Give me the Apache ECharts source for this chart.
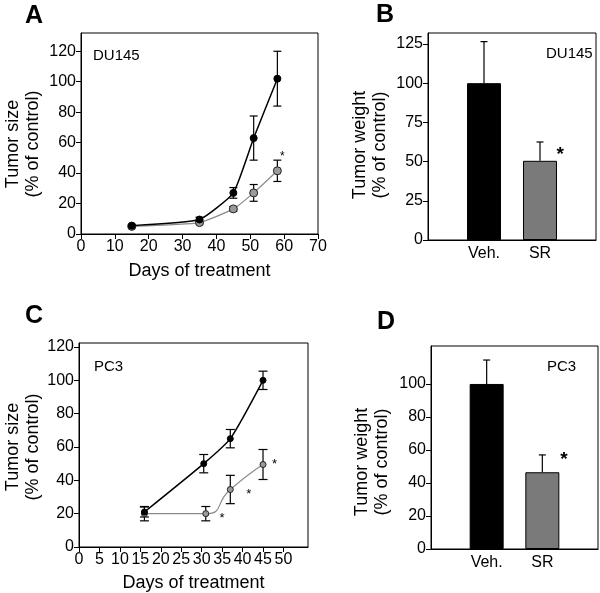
<!DOCTYPE html>
<html>
<head>
<meta charset="utf-8">
<script src="https://cdn.jsdelivr.net/npm/echarts@6/dist/echarts.min.js"></script>
<style>
html,body{margin:0;padding:0;background:#fff;}
#chart{width:600px;height:593px;}
</style>
</head>
<body>
<div id="chart"></div>
<script>
// ---------- DATA ----------
// Panel A (DU145 tumor size)
const daysA = [15, 35, 45, 51, 58];
const vehA = [5.5, 9.5, 27, 63, 102];
const vehAErr = [0.8, 1.5, 3.5, 14.5, 18];
const srA = [5, 7.5, 16.5, 27, 41.5];
const srAErr = [0.8, 0.8, 1.5, 5.5, 7];
const starsA = [[59.5, 52.6]];
const xTicksA = [0, 10, 20, 30, 40, 50, 60, 70];
const yTicksA = [0, 20, 40, 60, 80, 100, 120];

// Panel B (DU145 tumor weight)
const groups = ['Veh.', 'SR'];
const weightB = [100, 50.5];
const weightBErr = [26.5, 12];
const starsB = [[2.36, 57]];
const yTicksB = [0, 25, 50, 75, 100, 125];

// Panel C (PC3 tumor size)
const daysCVeh = [16, 30.5, 37, 45];
const vehC = [21, 50, 65, 100];
const vehCErr = [3, 5.5, 5.5, 5.5];
const daysCSR = [16, 31, 37, 45];
const srC = [20, 20, 34.5, 49.5];
const srCErr = [4.3, 4.3, 8.5, 9];
const starsC = [[35, 19.2], [41.5, 33.6], [47.8, 51.2]];
const xTicksC = [0, 5, 10, 15, 20, 25, 30, 35, 40, 45, 50];
const yTicksC = [0, 20, 40, 60, 80, 100, 120];

// Panel D (PC3 tumor weight)
const weightD = [100, 46.5];
const weightDErr = [14.5, 10.5];
const starsD = [[2.39, 57]];
const yTicksD = [0, 20, 40, 60, 80, 100];

// ---------- HELPERS ----------
const FONT = '"Liberation Sans", Arial, Helvetica, sans-serif';
const BLACK = '#000';
const GRAYLINE = '#8a8a8a';
const GRAYFILL = '#9a9a9a';
const BARGRAY = '#7a7a7a';

function pairs(xs, ys) { return xs.map((x, i) => [x, ys[i]]); }
function errData(xs, ys, es) { return xs.map((x, i) => [x, ys[i] - es[i], ys[i] + es[i]]); }
function upErrData(ys, es) { return ys.map((y, i) => [i + 1, y, y + es[i]]); }

function errRender(capW, lw, bottomCap) {
  return function (params, api) {
    const x = api.value(0), lo = api.value(1), hi = api.value(2);
    const pLo = api.coord([x, lo]), pHi = api.coord([x, hi]);
    const w = capW / 2;
    const st = { stroke: BLACK, lineWidth: lw };
    const children = [
      { type: 'line', shape: { x1: pHi[0], y1: pHi[1], x2: pLo[0], y2: pLo[1] }, style: st },
      { type: 'line', shape: { x1: pHi[0] - w, y1: pHi[1], x2: pHi[0] + w, y2: pHi[1] }, style: st }
    ];
    if (bottomCap) children.push({ type: 'line', shape: { x1: pLo[0] - w, y1: pLo[1], x2: pLo[0] + w, y2: pLo[1] }, style: st });
    return { type: 'group', children };
  };
}
function starRender(fs, bold) {
  return function (params, api) {
    const p = api.coord([api.value(0), api.value(1)]);
    return {
      type: 'text',
      style: { text: '*', x: p[0], y: p[1] + fs * 0.24, fill: BLACK, font: (bold ? 'bold ' : '') + fs + 'px ' + FONT, align: 'center', verticalAlign: 'middle' }
    };
  };
}

const labelStyle = { color: BLACK, fontSize: 16, fontFamily: FONT };
const axisLineStyle = { show: true, lineStyle: { color: BLACK, width: 1 } };

function valueXAxis(gi, max, ticks, labelMargin) {
  return {
    type: 'value', gridIndex: gi, min: 0, max: max,
    axisLine: axisLineStyle,
    axisTick: { show: true, inside: false, length: 5, lineStyle: { color: BLACK }, customValues: ticks },
    axisLabel: Object.assign({ margin: labelMargin, customValues: ticks }, labelStyle),
    splitLine: { show: false }
  };
}
function valueYAxis(gi, max, ticks) {
  return {
    type: 'value', gridIndex: gi, min: 0, max: max,
    axisLine: axisLineStyle,
    axisTick: { show: true, inside: false, length: 5, lineStyle: { color: BLACK }, customValues: ticks },
    axisLabel: Object.assign({ margin: 5, customValues: ticks }, labelStyle),
    splitLine: { show: false }
  };
}
function groupXAxis(gi) {
  return {
    type: 'value', gridIndex: gi, min: 0, max: 3,
    axisLine: axisLineStyle,
    axisTick: { show: false },
    axisLabel: Object.assign({ margin: 6, customValues: groups.map((g, i) => i + 1), formatter: v => groups[Math.round(v) - 1] || '' }, labelStyle),
    splitLine: { show: false }
  };
}
const gridBox = { show: true, borderColor: BLACK, borderWidth: 1, backgroundColor: 'transparent', containLabel: false };

function yTitle(text, x, y) {
  return {
    type: 'text', x: x, y: y, rotation: Math.PI / 2,
    style: { text: text, font: '18px ' + FONT, fill: BLACK, align: 'center', verticalAlign: 'middle', lineHeight: 20 }
  };
}
function letter(t, left, top) {
  return { text: t, left: left, top: top, padding: 0, textStyle: { fontSize: 25, fontWeight: 'bold', color: BLACK, fontFamily: FONT } };
}
function note(t, left, top) {
  return { text: t, left: left, top: top, padding: 0, textStyle: { fontSize: 15, fontWeight: 'normal', color: BLACK, fontFamily: FONT } };
}

const blackLine = (xi, yi, data, smooth, size) => ({
  type: 'line', xAxisIndex: xi, yAxisIndex: yi, data: data, smooth: smooth, z: 4,
  symbol: 'circle', symbolSize: size, showSymbol: true,
  lineStyle: { color: BLACK, width: 1.5 }, itemStyle: { color: BLACK, borderColor: BLACK, borderWidth: 1 }
});
const grayLine = (xi, yi, data, smooth, size) => ({
  type: 'line', xAxisIndex: xi, yAxisIndex: yi, data: data, smooth: smooth, z: 3,
  symbol: 'circle', symbolSize: size, showSymbol: true,
  lineStyle: { color: GRAYLINE, width: 1.2 }, itemStyle: { color: GRAYFILL, borderColor: '#222', borderWidth: 1 }
});
const errSeries = (xi, yi, data, capW, bottomCap) => ({
  type: 'custom', xAxisIndex: xi, yAxisIndex: yi, data: data, z: 2, silent: true,
  renderItem: errRender(capW, 1.2, bottomCap)
});
const starSeries = (xi, yi, data, fs, bold) => ({
  type: 'custom', xAxisIndex: xi, yAxisIndex: yi, data: data, z: 5, silent: true,
  renderItem: starRender(fs, bold)
});
const barSeries = (xi, yi, vals) => ({
  type: 'bar', xAxisIndex: xi, yAxisIndex: yi, barWidth: 34, z: 2,
  data: vals.map((v, i) => ({ value: [i + 1, v], itemStyle: { color: i === 0 ? BLACK : BARGRAY, borderColor: BLACK, borderWidth: 1 } }))
});

const chart = echarts.init(document.getElementById('chart'), null, { renderer: 'canvas' });
chart.setOption({
  animation: false,
  backgroundColor: '#fff',
  title: [
    letter('A', 25, 4), letter('B', 376, 3), letter('C', 25, 304), letter('D', 377, 310),
    note('DU145', 93, 48), note('DU145', 546, 46), note('PC3', 94, 359), note('PC3', 547, 359)
  ],
  grid: [
    Object.assign({ left: 81, top: 33, width: 237, height: 201 }, gridBox),
    Object.assign({ left: 428, top: 33, width: 168, height: 207 }, gridBox),
    Object.assign({ left: 79, top: 343, width: 229, height: 204 }, gridBox),
    Object.assign({ left: 431, top: 346, width: 167, height: 203 }, gridBox)
  ],
  xAxis: [
    Object.assign(valueXAxis(0, 70, xTicksA, 5), { name: 'Days of treatment', nameLocation: 'middle', nameGap: 28, nameTextStyle: { color: BLACK, fontSize: 18, fontFamily: FONT } }),
    groupXAxis(1),
    Object.assign(valueXAxis(2, 56, xTicksC, 5), { name: 'Days of treatment', nameLocation: 'middle', nameGap: 27, nameTextStyle: { color: BLACK, fontSize: 18, fontFamily: FONT } }),
    groupXAxis(3)
  ],
  yAxis: [
    valueYAxis(0, 132, yTicksA),
    valueYAxis(1, 132, yTicksB),
    valueYAxis(2, 122.4, yTicksC),
    valueYAxis(3, 123, yTicksD)
  ],
  graphic: [
    yTitle('Tumor size\n(% of control)', 23, 144),
    yTitle('Tumor weight\n(% of control)', 370, 145),
    yTitle('Tumor size\n(% of control)', 23, 447),
    yTitle('Tumor weight\n(% of control)', 372, 462)
  ],
  series: [
    // A
    errSeries(0, 0, errData(daysA, vehA, vehAErr), 8, true),
    errSeries(0, 0, errData(daysA, srA, srAErr), 8, true),
    grayLine(0, 0, pairs(daysA, srA), 0.15, 8),
    blackLine(0, 0, pairs(daysA, vehA), 0.15, 7),
    starSeries(0, 0, starsA, 12, false),
    // B
    barSeries(1, 1, weightB),
    errSeries(1, 1, upErrData(weightB, weightBErr), 7, false),
    starSeries(1, 1, starsB, 19, true),
    // C
    errSeries(2, 2, errData(daysCVeh, vehC, vehCErr), 9, true),
    errSeries(2, 2, errData(daysCSR, srC, srCErr), 9, true),
    grayLine(2, 2, pairs(daysCSR, srC), 0.6, 6),
    blackLine(2, 2, pairs(daysCVeh, vehC), 0.2, 6),
    starSeries(2, 2, starsC, 13, false),
    // D
    barSeries(3, 3, weightD),
    errSeries(3, 3, upErrData(weightD, weightDErr), 7, false),
    starSeries(3, 3, starsD, 19, true)
  ]
});
</script>
</body>
</html>
